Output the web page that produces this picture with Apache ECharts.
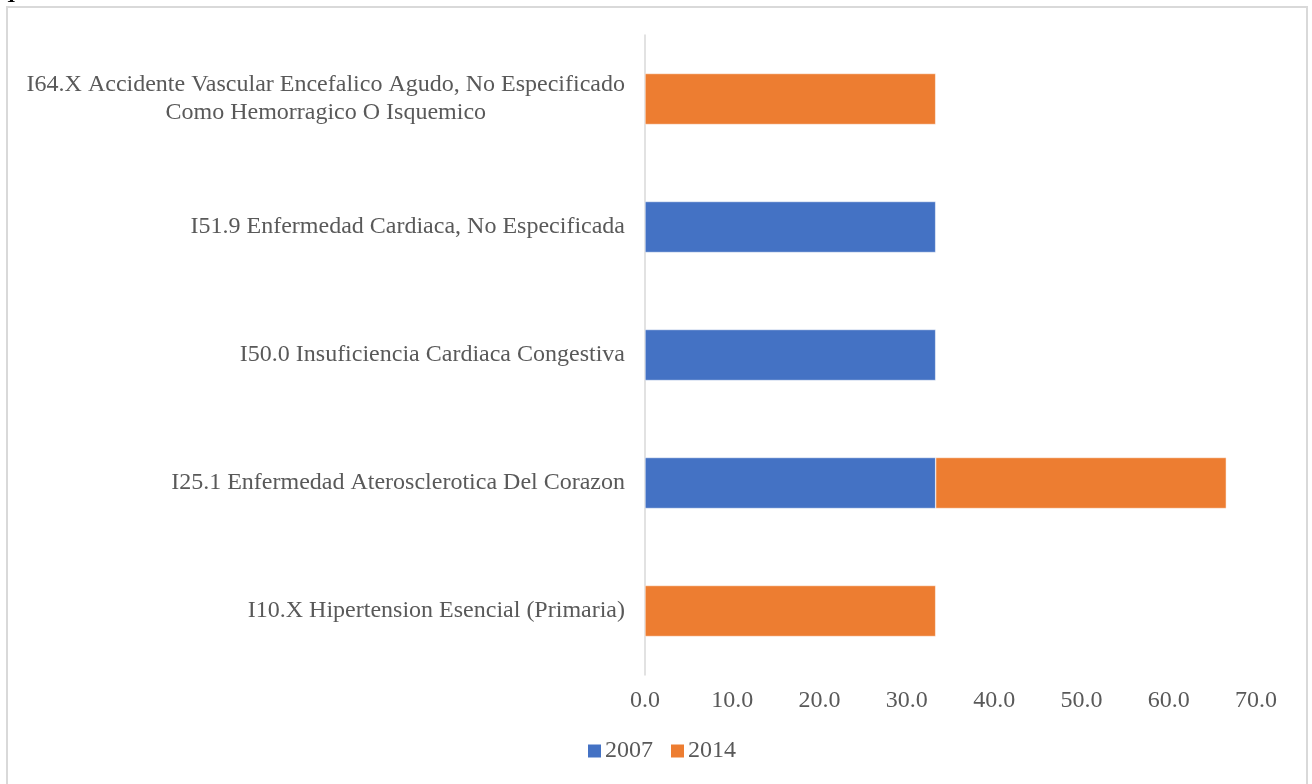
<!DOCTYPE html>
<html>
<head>
<meta charset="utf-8">
<script src="https://cdn.jsdelivr.net/npm/echarts@6/dist/echarts.min.js"></script>
<style>
  html, body { margin: 0; padding: 0; background: #fff; }
  #chart { width: 1312px; height: 784px; }
</style>
</head>
<body>
<div id="chart"></div>
<script>
// Diagnoses, listed bottom to top as the category axis draws them
const categories = [
  'I10.X Hipertension Esencial (Primaria)',
  'I25.1 Enfermedad Aterosclerotica Del Corazon',
  'I50.0 Insuficiencia Cardiaca Congestiva',
  'I51.9 Enfermedad Cardiaca, No Especificada',
  'I64.X Accidente Vascular Encefalico Agudo, No Especificado\nComo Hemorragico O Isquemico'
];
const series2007 = [null, 33.3, 33.3, 33.3, null];
const series2014 = [33.3, 33.3, null, null, 33.3];
const xTicks = { min: 0, max: 70, interval: 10 };

const FONT = '"Liberation Serif", "Times New Roman", serif';
const TEXT = '#595959';

const chart = echarts.init(document.getElementById('chart'), null, { renderer: 'canvas' });

chart.setOption({
  backgroundColor: '#ffffff',
  animation: false,
  graphic: [
    {
      type: 'rect',
      shape: { x: 7, y: 7, width: 1300, height: 790 },
      style: { fill: 'none', stroke: '#d9d9d9', lineWidth: 2 },
      silent: true
    },
    {
      type: 'text',
      left: 8,
      top: -15,
      style: { text: 'I', font: 'italic bold 22px ' + FONT, fill: '#000' },
      silent: true
    }
  ],
  grid: { left: 645, right: 56, top: 35, bottom: 109, containLabel: false },
  legend: {
    bottom: 16,
    left: 581,
    itemWidth: 15,
    itemHeight: 15,
    itemGap: 16,
    icon: 'rect',
    textStyle: { fontFamily: FONT, fontSize: 24, color: TEXT, padding: [0, 0, 0, -2] },
    data: ['2007', '2014']
  },
  xAxis: {
    type: 'value',
    min: xTicks.min,
    max: xTicks.max,
    interval: xTicks.interval,
    axisLine: { show: false },
    axisTick: { show: false },
    splitLine: { show: false },
    axisLabel: {
      fontFamily: FONT,
      fontSize: 24,
      color: TEXT,
      margin: 14,
      formatter: v => v.toFixed(1)
    }
  },
  yAxis: {
    type: 'category',
    data: categories,
    axisLine: { show: true, lineStyle: { color: '#d9d9d9', width: 1.5 } },
    axisTick: { show: false },
    axisLabel: {
      fontFamily: FONT,
      fontSize: 24,
      color: TEXT,
      margin: 20,
      lineHeight: 28,
      formatter: v => v.indexOf('\n') >= 0 ? '{c|' + v + '}' : v,
      rich: {
        c: { align: 'center', fontFamily: FONT, fontSize: 24, color: TEXT, lineHeight: 28 }
      }
    }
  },
  series: [
    {
      name: '2007',
      type: 'bar',
      stack: 'total',
      barWidth: 51,
      data: series2007,
      itemStyle: { color: '#4472C4', borderColor: '#ffffff', borderWidth: 0.5 }
    },
    {
      name: '2014',
      type: 'bar',
      stack: 'total',
      barWidth: 51,
      data: series2014,
      itemStyle: { color: '#ED7D31', borderColor: '#ffffff', borderWidth: 0.5 }
    }
  ]
});
</script>
</body>
</html>
